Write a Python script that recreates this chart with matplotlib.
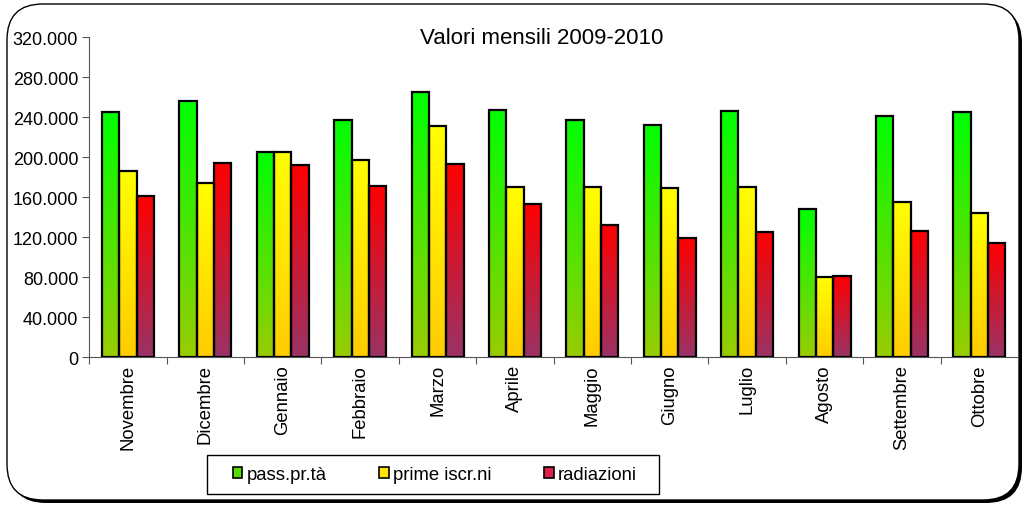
import numpy as np
import matplotlib
matplotlib.use("Agg")
import matplotlib.pyplot as plt
from matplotlib.colors import LinearSegmentedColormap
from matplotlib.patches import FancyBboxPatch, Patch, Rectangle
from matplotlib.ticker import FuncFormatter, MultipleLocator

plt.rcParams['font.family'] = ['Liberation Sans', 'DejaVu Sans']

months = ["Novembre", "Dicembre", "Gennaio", "Febbraio", "Marzo", "Aprile",
          "Maggio", "Giugno", "Luglio", "Agosto", "Settembre", "Ottobre"]
pass_prta = [245000, 256500, 205000, 237300, 265300, 247700,
             237300, 232000, 246300, 148000, 241000, 245000]
prime_iscr = [186700, 174300, 205000, 197700, 231000, 170000,
              170300, 169000, 170300, 80300, 155700, 144300]
radiazioni = [161000, 194300, 192300, 171300, 193000, 153700,
              132700, 119000, 125300, 81700, 126700, 114700]
series_names = ["pass.pr.tà", "prime iscr.ni", "radiazioni"]
title = "Valori mensili 2009-2010"

grad_colors = [("#00FF00", "#99CC00"), ("#FFFF00", "#FFCC00"), ("#FF0000", "#993366")]
legend_colors = ["#55DD00", "#FFE400", "#D8224A"]

W, H = 1023, 506
fig = plt.figure(figsize=(W / 100, H / 100), dpi=100)

# rounded frame with shadow
fx0, fy_top, fx1, fy_bot = 7, 5, 1019, 501
shadow = FancyBboxPatch(((fx0 + 3) / W, (H - fy_bot - 3) / H), (fx1 - fx0) / W, (fy_bot - fy_top) / H,
                        boxstyle="round,pad=0,rounding_size=0.035",
                        transform=fig.transFigure, facecolor="black",
                        edgecolor="black", lw=0, zorder=0, mutation_aspect=W / H)
fig.patches.append(shadow)
frame = FancyBboxPatch((fx0 / W, (H - fy_bot) / H), (fx1 - fx0) / W, (fy_bot - fy_top) / H,
                       boxstyle="round,pad=0,rounding_size=0.035",
                       transform=fig.transFigure, facecolor="white",
                       edgecolor="black", lw=1.0, zorder=0.5, mutation_aspect=W / H)
fig.patches.append(frame)

ax_l, ax_r = 89.3 / W, 1018 / W
ax_b, ax_t = (H - 358.3) / H, (H - 38.3) / H
ax = fig.add_axes([ax_l, ax_b, ax_r - ax_l, ax_t - ax_b])
ax.set_zorder(2)
ax.patch.set_alpha(0)

n = len(months)
x = np.arange(n)
bw = 0.224
data = [pass_prta, prime_iscr, radiazioni]
grad = np.linspace(1, 0, 256).reshape(-1, 1)
for i, (vals, (ctop, cbot)) in enumerate(zip(data, grad_colors)):
    cmap = LinearSegmentedColormap.from_list(f"g{i}", [cbot, ctop])
    offs = (i - 1) * bw
    bars = ax.bar(x + offs, vals, width=bw, facecolor="none",
                  edgecolor="black", linewidth=1.6, zorder=3)
    for b in bars:
        x0, y0 = b.get_x(), b.get_y()
        w, h = b.get_width(), b.get_height()
        im = ax.imshow(grad, cmap=cmap, aspect="auto", extent=[x0, x0 + w, y0, y0 + h],
                       zorder=2, interpolation="bilinear", vmin=0, vmax=1)
        im.set_clip_path(b)

ax.set_xlim(-0.5, n - 0.5)
ax.set_ylim(0, 320000)
ax.yaxis.set_major_locator(MultipleLocator(40000))
ax.yaxis.set_major_formatter(FuncFormatter(lambda v, p: "0" if v == 0 else f"{int(v):,}".replace(",", ".")))
ax.set_xticks(np.arange(-0.5, n, 1.0))
ax.set_xticklabels([])
ax.set_xticks(x, minor=True)
ax.set_xticklabels(months, minor=True, rotation=90, fontsize=13.3)
ax.tick_params(axis="x", which="minor", length=0, pad=5)
ax.tick_params(axis="x", which="major", length=5, direction="out", color="#555555")
ax.tick_params(axis="y", length=5, direction="out", labelsize=13, pad=3, color="#555555")
for s in ["top", "right"]:
    ax.spines[s].set_visible(False)
ax.spines["left"].set_color("#555555")
ax.spines["bottom"].set_color("#555555")

fig.text(542 / W, (H - 38) / H, title, ha="center", va="center", fontsize=16, zorder=3)

# legend box
box = Rectangle((207 / W, (H - 495) / H), 452 / W, 39 / H, transform=fig.transFigure,
                facecolor="white", edgecolor="black", lw=1.0, zorder=3)
fig.patches.append(box)
handles = [Patch(facecolor=c, edgecolor="black", linewidth=1.2) for c in legend_colors]
leg = fig.legend(handles, series_names, loc="center",
                 bbox_to_anchor=(435 / W, (H - 475.5) / H),
                 ncol=3, fontsize=13.3, frameon=False,
                 handlelength=0.5, handleheight=0.5, columnspacing=2.85,
                 handletextpad=0.25, borderaxespad=0, borderpad=0)
leg.set_zorder(4)

fig.savefig("out.png", dpi=100)
